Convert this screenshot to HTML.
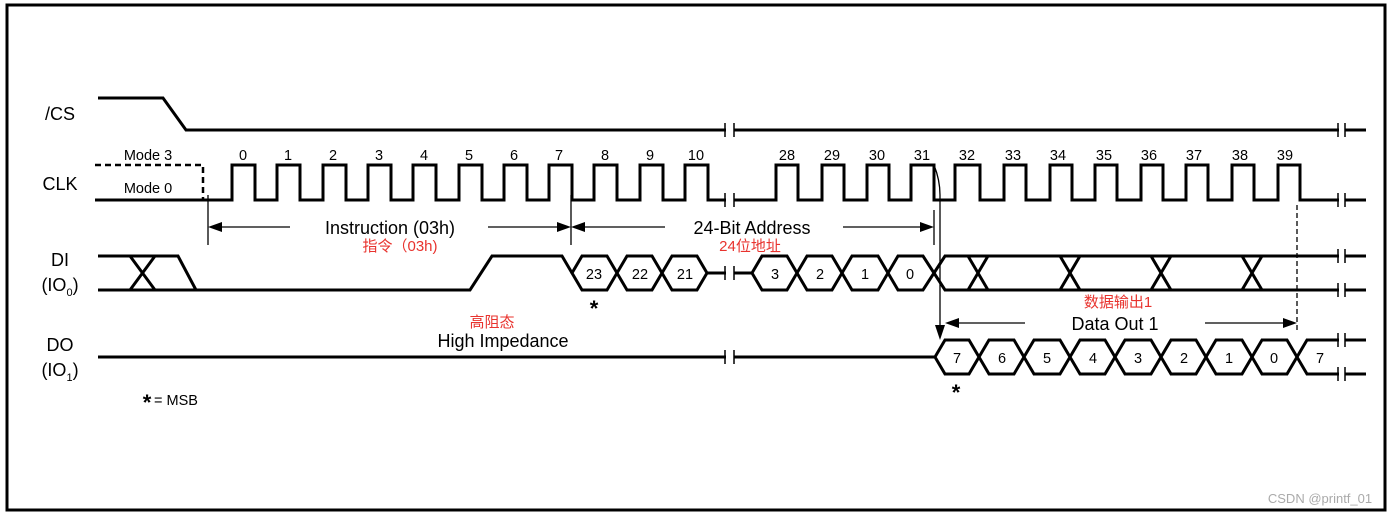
<!DOCTYPE html>
<html><head><meta charset="utf-8"><style>
html,body{margin:0;padding:0;background:#fff}
svg{display:block}
text{font-family:"Liberation Sans","Noto Sans CJK SC",sans-serif}
</style></head><body>
<svg width="1392" height="516" viewBox="0 0 1392 516" xmlns="http://www.w3.org/2000/svg">
<rect x="7" y="5" width="1378" height="505" fill="none" stroke="#000" stroke-width="3"/>
<g fill="none" stroke="#000" stroke-width="3" stroke-linejoin="miter">
<!-- CS -->
<path d="M98,98 H163 L186,130 H1366"/>
<!-- CLK -->
<path d="M95,200 H232 V165 H255 V200 H277 V165 H300 V200 H323 V165 H346 V200 H368 V165 H391 V200 H413 V165 H436 V200 H459 V165 H482 V200 H504 V165 H527 V200 H549 V165 H572 V200 H594 V165 H617 V200 H640 V165 H663 V200 H685 V165 H708 V200 H735 H776 V165 H798 V200 H822 V165 H844 V200 H867 V165 H889 V200 H911 V165 H934 V200 H955 V165 H980 V200 H1004 V165 H1026 V200 H1050 V165 H1072 V200 H1095 V165 H1117 V200 H1141 V165 H1163 V200 H1186 V165 H1208 V200 H1232 V165 H1254 V200 H1278 V165 H1300 V200 H1366"/>
<path d="M95,165 H203 V200" stroke-dasharray="6,4" stroke-width="2.5"/>
<!-- DI -->
<path d="M98,256 H178 L196,290"/>
<path d="M98,290 H470 L492,256 H562 L572,273"/>
<path d="M130,256 L155,290 M155,256 L130,290"/>
<path d="M572,273 L582,256 H607 L627,290 H652 L672,256 H697 L707,273 L697,290 H672 L652,256 H627 L607,290 H582 Z"/>
<path d="M707,273 H752"/>
<path d="M752,273 L762,256 H787 L807,290 H832 L852,256 H878 L898,290 H923 L934,273 L923,256 H898 L878,290 H852 L832,256 H807 L787,290 H762 Z"/>
<path d="M934,273 L945,256 H1366 M934,273 L945,290 H1366"/>
<path d="M968,256 L988,290 M988,256 L968,290 M1060,256 L1080,290 M1080,256 L1060,290 M1151,256 L1171,290 M1171,256 L1151,290 M1242,256 L1262,290 M1262,256 L1242,290"/>
<!-- DO -->
<path d="M98,357 H935"/>
<path d="M935,357 L945,340 H969 L989,374 H1014 L1034,340 H1060 L1080,374 H1105 L1125,340 H1151 L1171,374 H1196 L1216,340 H1242 L1262,374 H1287 L1297,357 L1287,340 H1262 L1242,374 H1216 L1196,340 H1171 L1151,374 H1125 L1105,340 H1080 L1060,374 H1034 L1014,340 H989 L969,374 H945 Z"/>
<path d="M1297,357 L1307,340 H1366 M1297,357 L1307,374 H1366"/>
</g>
<!-- breaks -->
<g fill="#fff" stroke="none">
<rect x="726" y="120" width="8" height="260"/>
<rect x="1339" y="120" width="6" height="262"/>
</g>
<g stroke="#000" stroke-width="1.5">
<path d="M725,123 V137 M734,123 V137 M725,193 V207 M734,193 V207 M725,266 V280 M734,266 V280 M725,350 V364 M734,350 V364"/>
<path d="M1338,123 V137 M1345,123 V137 M1338,193 V207 M1345,193 V207 M1338,249 V263 M1345,249 V263 M1338,283 V297 M1345,283 V297 M1338,333 V347 M1345,333 V347 M1338,367 V381 M1345,367 V381"/>
</g>
<!-- arrows -->
<g stroke="#000" stroke-width="1.3" fill="none">
<path d="M208,195 V245 M571,195 V245 M934,210 V245"/>
<path d="M215,227 H290 M488,227 H562 M579,227 H665 M843,227 H926"/>
<path d="M934,165 Q940,180 940,195 V330"/>
<path d="M1297,205 V330" stroke-dasharray="5,3"/>
<path d="M953,323 H1025 M1205,323 H1289"/>
</g>
<g fill="#000">
<path d="M208,227 L222,222 L222,232 Z"/>
<path d="M571,227 L557,222 L557,232 Z"/>
<path d="M571,227 L585,222 L585,232 Z"/>
<path d="M934,227 L920,222 L920,232 Z"/>
<path d="M940,340 L935,325 L945,325 Z"/>
<path d="M945,323 L959,318 L959,328 Z"/>
<path d="M1297,323 L1283,318 L1283,328 Z"/>
</g>
<!-- labels -->
<g font-size="18" fill="#000" text-anchor="middle">
<text x="60" y="120">/CS</text>
<text x="60" y="190">CLK</text>
<text x="60" y="266">DI</text>
<text x="60" y="291">(IO<tspan font-size="11" dy="5">0</tspan><tspan dy="-5">)</tspan></text>
<text x="60" y="351">DO</text>
<text x="60" y="376">(IO<tspan font-size="11" dy="5">1</tspan><tspan dy="-5">)</tspan></text>
<text x="390" y="234">Instruction (03h)</text>
<text x="752" y="234">24-Bit Address</text>
<text x="1115" y="330">Data Out 1</text>
<text x="503" y="347">High Impedance</text>
</g>
<g font-size="14.5" fill="#000" text-anchor="middle">
<text x="148" y="160">Mode 3</text>
<text x="148" y="193">Mode 0</text>
<text x="243" y="160">0</text><text x="288" y="160">1</text><text x="333" y="160">2</text><text x="379" y="160">3</text><text x="424" y="160">4</text><text x="469" y="160">5</text><text x="514" y="160">6</text><text x="559" y="160">7</text><text x="605" y="160">8</text><text x="650" y="160">9</text><text x="696" y="160">10</text>
<text x="787" y="160">28</text><text x="832" y="160">29</text><text x="877" y="160">30</text><text x="922" y="160">31</text><text x="967" y="160">32</text><text x="1013" y="160">33</text><text x="1058" y="160">34</text><text x="1104" y="160">35</text><text x="1149" y="160">36</text><text x="1194" y="160">37</text><text x="1240" y="160">38</text><text x="1285" y="160">39</text>
<text x="594" y="279">23</text><text x="640" y="279">22</text><text x="685" y="279">21</text>
<text x="775" y="279">3</text><text x="820" y="279">2</text><text x="865" y="279">1</text><text x="910" y="279">0</text>
<text x="957" y="363">7</text><text x="1002" y="363">6</text><text x="1047" y="363">5</text><text x="1093" y="363">4</text><text x="1138" y="363">3</text><text x="1184" y="363">2</text><text x="1229" y="363">1</text><text x="1274" y="363">0</text><text x="1320" y="363">7</text>
<text x="176" y="405">= MSB</text>
</g>
<g font-size="22" font-weight="bold" fill="#000" text-anchor="middle">
<text x="594" y="316">*</text>
<text x="956" y="400">*</text>
<text x="147" y="410">*</text>
</g>
<g font-size="15" fill="#e8332e" text-anchor="middle">
<text x="400" y="251">指令（03h)</text>
<text x="750" y="251">24位地址</text>
<text x="1118" y="307">数据输出1</text>
<text x="492" y="327">高阻态</text>
</g>
<text x="1320" y="503" font-size="13" fill="#aaa" text-anchor="middle">CSDN @printf_01</text>
</svg>
</body></html>
